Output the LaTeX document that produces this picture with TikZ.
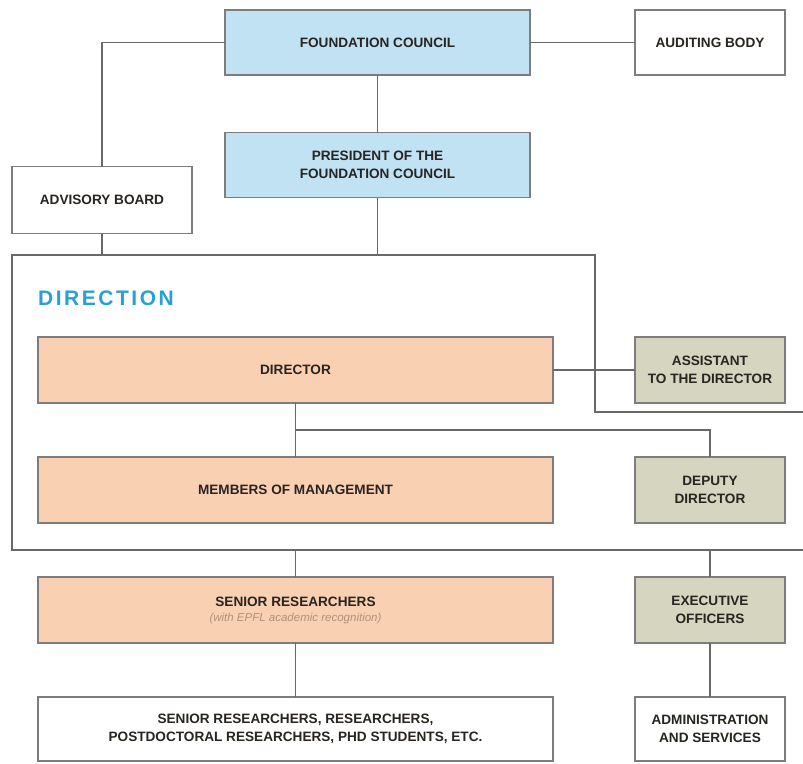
\documentclass[tikz,border=0pt]{standalone}
\usepackage{fontspec}
\setmainfont{Liberation Sans}
\definecolor{fcblue}{RGB}{192,226,243}
\definecolor{peach}{RGB}{250,208,178}
\definecolor{olive}{RGB}{214,214,192}
\definecolor{linegrey}{RGB}{105,105,105}
\definecolor{boxgrey}{RGB}{125,125,125}
\definecolor{txt}{RGB}{40,36,32}
\definecolor{dirblue}{RGB}{40,160,215}
\definecolor{subtxt}{RGB}{175,145,125}
\tikzset{
  box/.style={draw=boxgrey, line width=1.3pt, inner sep=0pt, outer sep=0pt, align=center,
    text=txt, font=\fontsize{13.6}{18}\selectfont\bfseries},
  bluebox/.style={box, fill=fcblue, minimum width=305pt, minimum height=65pt},
  whitebox/.style={box, fill=white},
  peachbox/.style={box, fill=peach, minimum width=515pt, minimum height=66pt},
  olivebox/.style={box, fill=olive, minimum width=150pt, minimum height=66pt},
  conn/.style={draw=linegrey, line width=1.6pt},
}
\begin{document}
\begin{tikzpicture}[x=1pt,y=-1pt]
\useasboundingbox (0,0) rectangle (803,763);
% direction frame
\draw[conn] (803,412) -- (595,412) -- (595,255) -- (12,255) -- (12,550) -- (803,550);
\coordinate (ftopA) at (102,255);
\coordinate (ftopP) at (377.5,255);
\coordinate (fbotL) at (295.5,550);
\coordinate (fbotR) at (710,550);
\coordinate (branch) at (295.5,430);

\node[bluebox] (fc) at (377.5,42.5) {FOUNDATION COUNCIL};
\node[whitebox, minimum width=150pt, minimum height=65pt] (aud) at (710,42.5) {AUDITING BODY};
\node[bluebox] (pres) at (377.5,165) {PRESIDENT OF THE\\FOUNDATION COUNCIL};
\node[whitebox, minimum width=180pt, minimum height=67pt] (adv) at (102,200) {ADVISORY BOARD};

\node[anchor=base west, inner sep=0pt, text=dirblue, font=\fontsize{21}{21}\selectfont\bfseries\addfontfeature{LetterSpace=12}] (dirlbl) at (38,305) {DIRECTION};

\node[peachbox] (dir) at (295.5,370) {DIRECTOR};
\node[olivebox] (asst) at (710,370) {ASSISTANT\\TO THE DIRECTOR};
\node[peachbox] (mem) at (295.5,490) {MEMBERS OF MANAGEMENT};
\node[olivebox] (dep) at (710,490) {DEPUTY\\DIRECTOR};
\node[peachbox] (sen) at (295.5,610) {SENIOR RESEARCHERS\\[-3pt]{\fontsize{11.5}{14}\selectfont\mdseries\itshape\color{subtxt}(with EPFL academic recognition)}};
\node[olivebox] (exe) at (710,610) {EXECUTIVE\\OFFICERS};
\node[whitebox, minimum width=515pt, minimum height=64pt] (bot) at (295.5,729) {SENIOR RESEARCHERS, RESEARCHERS,\\POSTDOCTORAL RESEARCHERS, PHD STUDENTS, ETC.};
\node[whitebox, minimum width=150pt, minimum height=64pt] (adm) at (710,729) {ADMINISTRATION\\AND SERVICES};

% connectors
\draw[conn] (fc.east) -- (aud.west);
\draw[conn] (fc.west) -| (adv.north);
\draw[conn] (fc.south) -- (pres.north);
\draw[conn] (pres.south) -- (ftopP);
\draw[conn] (adv.south) -- (ftopA);
\draw[conn] (dir.east) -- (asst.west);
\draw[conn] (dir.south) -- (mem.north);
\draw[conn] (branch) -| (dep.north);
\draw[conn] (fbotL) -- (sen.north);
\draw[conn] (fbotR) -- (exe.north);
\draw[conn] (sen.south) -- (bot.north);
\draw[conn] (exe.south) -- (adm.north);
\end{tikzpicture}
\end{document}
